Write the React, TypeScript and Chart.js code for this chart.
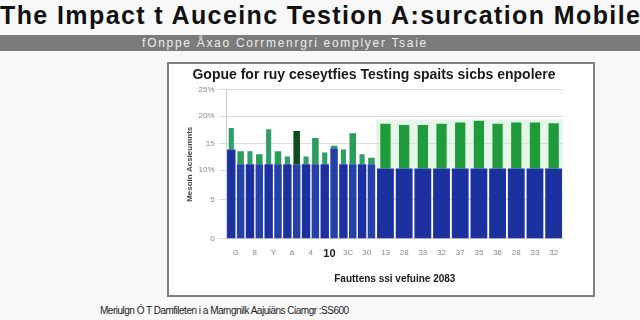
import React, { useEffect, useRef } from "react";
import { Chart, registerables } from "chart.js";

Chart.register(...registerables);

const mainTitle = "The Impact t Auceinc Testion A:surcation Mobile";
const subTitle = "fOnppe Åxao  Corrmenrgri eomplyer Tsaie";
const chartTitle = "Gopue for ruy ceseytfies Testing spaits sicbs enpolere";
const yTitle = "Mesoin Acsieumnts";
const xTitle = "Fauttens ssi vefuine 2083";
const footer = "Meriulgn Ó T Damfileten i a Marngnilk Aajuiäns Ciamgr :SS600";

const categories = ["G", "8", "Y", "ä", "4", "10", "3C", "30", "13", "28", "33", "32", "37", "35", "36", "28", "33", "32"];
const yTickValues = [0, 6.6, 11.5, 16, 20.6, 25];
const yTickLabels = ["0", "5", "10%", "15", "20%", "25%"];

// stack A (first sub-bar in the left categories, full bar on the right)
const blueA = [15, 12.5, 12.5, 12.5, 12.5, 12.5, 12.5, 12.5, 11.8, 11.8, 11.8, 11.8, 11.8, 11.8, 11.8, 11.8, 11.8, 11.8];
const greenA = [3.6, 2.2, 5.9, 1.3, 1.3, 2.0, 2.5, 1.7, 7.5, 7.3, 7.3, 7.5, 7.7, 8.0, 7.5, 7.7, 7.7, 7.6];
// stack B (second sub-bar, only in the left categories)
const blueB = [12.5, 12.5, 12.5, 12.5, 12.5, 15.2, 12.5, 12.5, null, null, null, null, null, null, null, null, null, null];
const greenB = [2.2, 1.7, 2.2, 5.6, 4.4, 0.4, 5.2, 1.1, null, null, null, null, null, null, null, null, null, null];

const FONT = "'Liberation Sans', Arial, sans-serif";

export default function App() {
  const canvasRef = useRef<HTMLCanvasElement | null>(null);

  useEffect(() => {
    document.body.style.margin = "0";
    const canvas = canvasRef.current;
    if (!canvas) return;

    const bandPlugin = {
      id: "paleBand",
      beforeDatasetsDraw(chart: any) {
        const { ctx, scales } = chart;
        const x0 = scales.x.getPixelForValue(8) - scales.x.width / 36;
        const x1 = chart.chartArea.right;
        const yTop = scales.y.getPixelForValue(20);
        const yBot = scales.y.getPixelForValue(11.8);
        ctx.save();
        ctx.fillStyle = "rgba(200,235,205,0.45)";
        ctx.fillRect(x0, yTop, x1 - x0, yBot - yTop);
        ctx.restore();
      },
    };

    const chart = new Chart(canvas, {
      type: "bar",
      data: {
        labels: categories,
        datasets: [
          { label: "A base", data: blueA, stack: "a", backgroundColor: "#1c31a0", barPercentage: 0.9, categoryPercentage: 1, skipNull: true },
          { label: "A top", data: greenA, stack: "a", backgroundColor: (c: any) => (c.dataIndex < 8 ? "#2e9e6a" : "#1f9b3b"), barPercentage: 0.55, categoryPercentage: 1, skipNull: true },
          { label: "B base", data: blueB, stack: "b", backgroundColor: "#2441a8", barPercentage: 0.8, categoryPercentage: 1, skipNull: true },
          { label: "B top", data: greenB, stack: "b", backgroundColor: (c: any) => (c.dataIndex === 3 ? "#0d4a1c" : "#2a9d5a"), barPercentage: 0.7, categoryPercentage: 1, skipNull: true },
        ],
      },
      options: {
        animation: false,
        responsive: false,
        devicePixelRatio: 1,
        layout: { padding: { left: 16, right: 30, top: 1, bottom: 10 } },
        plugins: {
          legend: { display: false },
          tooltip: { enabled: false },
          title: {
            display: true,
            text: chartTitle,
            color: "#1a1a1a",
            font: { family: FONT, size: 14, weight: "bold" },
            padding: { top: 2, bottom: 6 },
          },
        },
        scales: {
          x: {
            stacked: true,
            grid: { display: false },
            border: { color: "#cccccc" },
            ticks: {
              color: (c: any) => (c.index === 5 ? "#222222" : "#888888"),
              font: (c: any) => ({ family: FONT, size: c.index === 5 ? 11 : 8, weight: c.index === 5 ? "bold" : "normal" }),
              maxRotation: 0,
              autoSkip: false,
              padding: 1,
            },
            title: {
              display: true,
              text: xTitle,
              color: "#1a1a1a",
              font: { family: FONT, size: 10, weight: "bold" },
              padding: { top: 11, bottom: 0 },
            },
          },
          y: {
            stacked: true,
            min: 0,
            max: 25,
            afterBuildTicks: (axis: any) => {
              axis.ticks = yTickValues.map((v) => ({ value: v }));
            },
            grid: { color: "#dddddd" },
            border: { color: "#cccccc" },
            ticks: {
              color: "#888888",
              font: { family: FONT, size: 8 },
              padding: 4,
              callback: (_v: any, i: number) => yTickLabels[i],
            },
            title: {
              display: true,
              text: yTitle,
              color: "#444444",
              font: { family: FONT, size: 8, weight: "bold" },
              padding: { top: 0, bottom: 0 },
            },
          },
        },
      },
      plugins: [bandPlugin],
    });
    return () => chart.destroy();
  }, []);

  return (
    <div style={{ position: "fixed", left: 0, top: 0, width: 640, height: 320, background: "#f8f8f8", overflow: "hidden", fontFamily: FONT }}>
      <div style={{ position: "absolute", left: 0, top: 1, width: 720, whiteSpace: "nowrap", fontSize: 25, fontWeight: "bold", color: "#111", letterSpacing: 1.4 }}>
        {mainTitle}
      </div>
      <div style={{ position: "absolute", left: 0, top: 35, width: 640, height: 16, background: "#7b7b7b" }} />
      <div style={{ position: "absolute", left: 140, top: 35, width: 290, height: 16, lineHeight: "16px", textAlign: "center", whiteSpace: "nowrap", fontSize: 12, letterSpacing: 1.7, color: "#ececec" }}>
        {subTitle}
      </div>
      <div style={{ position: "absolute", left: 167, top: 62, width: 424, height: 231, border: "2px solid #808080", background: "#ffffff" }}>
        <canvas ref={canvasRef} width={424} height={231} style={{ display: "block" }} />
      </div>
      <div style={{ position: "absolute", left: 100, top: 305, whiteSpace: "nowrap", fontSize: 10, letterSpacing: -0.5, color: "#222" }}>
        {footer}
      </div>
    </div>
  );
}
